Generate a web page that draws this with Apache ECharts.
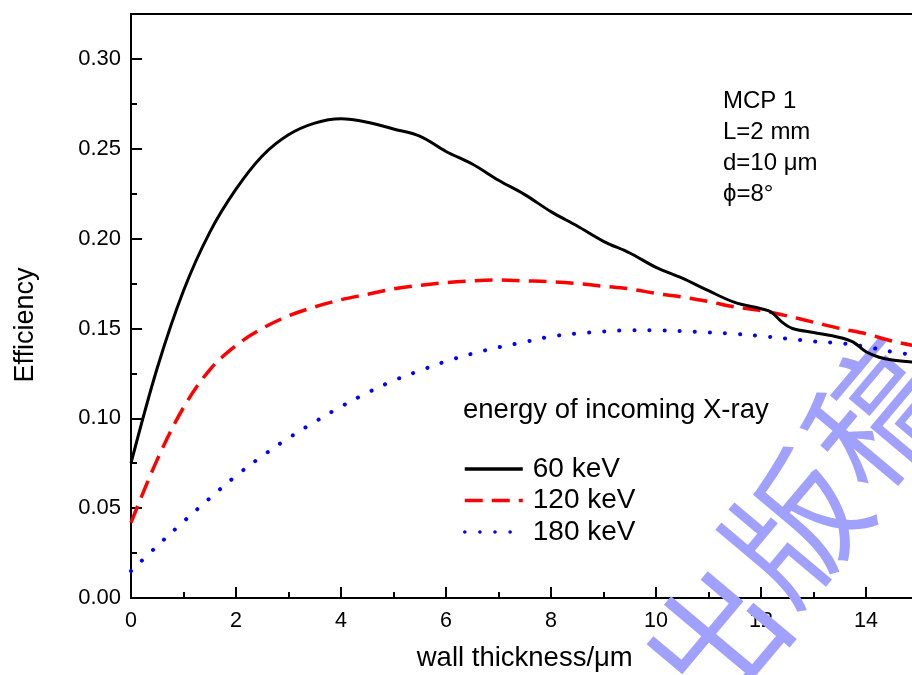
<!DOCTYPE html>
<html>
<head>
<meta charset="utf-8">
<script src="https://cdn.jsdelivr.net/npm/echarts@6/dist/echarts.min.js"></script>
<style>html,body{margin:0;padding:0;background:#fff;}#c{width:912px;height:675px;}</style>
</head>
<body>
<div id="c"></div>
<script>
// x positions (wall thickness, μm)
const xs = [0,0.5,1,1.5,2,2.5,3,3.5,4,4.5,5,5.5,6,6.5,7,7.5,8,8.5,9,9.5,10,10.5,11,11.5,12,12.5,13,13.5,14,14.5,15];
// 60 keV has its own finer sampling around the steps
const xs60 = [0,0.5,1,1.5,2,2.5,3,3.5,4,4.5,5,5.5,6,6.5,7,7.5,8,8.5,9,9.5,10,10.5,11,11.5,12,12.2,12.4,12.6,13,13.5,13.75,14,14.25,14.5,15];
const eff60 = [0.075,0.128,0.171,0.2035,0.2275,0.246,0.2578,0.2643,0.2667,0.2648,0.2610,0.2570,0.2485,0.2415,0.2325,0.2245,0.2150,0.2070,0.1985,0.1920,0.1840,0.1780,0.1710,0.1645,0.1610,0.1590,0.1535,0.1500,0.1478,0.1450,0.1425,0.1370,0.1340,0.1325,0.1310];
const eff120 = [0.042,0.077,0.106,0.127,0.1405,0.150,0.157,0.162,0.166,0.169,0.172,0.174,0.1755,0.1765,0.177,0.1765,0.176,0.175,0.1735,0.172,0.1695,0.1675,0.165,0.162,0.160,0.157,0.1535,0.150,0.147,0.143,0.140];
const eff180 = [0.015,0.029,0.0425,0.0555,0.068,0.079,0.089,0.098,0.1065,0.1142,0.121,0.1265,0.1317,0.136,0.1395,0.1425,0.1455,0.1472,0.1483,0.149,0.149,0.1485,0.1478,0.147,0.1458,0.1443,0.1428,0.1418,0.1398,0.137,0.135];
const seriesNames = ['60 keV','120 keV','180 keV'];
const legendTitle = 'energy of incoming X-ray';
const infoLines = ['MCP 1','L=2 mm','d=10 μm','ϕ=8°'];
const yTitle = 'Efficiency';
const xTitle = 'wall thickness/μm';
const watermark = ['未','出','版','稿'];

const FONT = 'Liberation Sans, Arial, sans-serif';
const chart = echarts.init(document.getElementById('c'), null, {renderer:'canvas'});
const pair = (x, y) => x.map((v, i) => [v, y[i]]);

const wmPos = [[635,752],[715,640],[795,527],[877,414]];
const graphics = [
  {type:'text', left:463, top:396, style:{text:legendTitle, font:'27.5px ' + FONT, fill:'#000'}, z:10},
  {type:'text', left:723, top:86, style:{text:infoLines.join('\n'), font:'24px ' + FONT, lineHeight:31, fill:'#000'}, z:10},
  {type:'text', x:26, y:325, rotation:Math.PI/2, style:{text:yTitle, font:'27px ' + FONT, fill:'#000', align:'center', verticalAlign:'middle'}, z:10}
];
watermark.forEach((ch, i) => {
  graphics.push({type:'text', x:wmPos[i][0], y:wmPos[i][1], rotation:50*Math.PI/180, silent:true, z:1,
    style:{text:ch, font:'135px "Noto Sans CJK SC"', fill:'#a0a0ff', align:'center', verticalAlign:'middle'}});
});

chart.setOption({
  animation:false,
  backgroundColor:'#fff',
  grid:{left:131, top:14, width:787.5, height:584, show:true, borderColor:'#000', borderWidth:2, containLabel:false, outerBoundsMode:'none'},
  legend:{orient:'vertical', left:463, top:455, padding:0, itemWidth:58, itemHeight:20, itemGap:3.5,
    itemStyle:{opacity:0}, lineStyle:{width:3.5},
    textStyle:{fontSize:28, fontFamily:FONT, color:'#000', padding:[0,0,0,5]}, data:seriesNames},
  xAxis:{type:'value', min:0, max:15, interval:2,
    name:xTitle, nameLocation:'middle', nameGap:46,
    nameTextStyle:{fontSize:27.5, fontFamily:FONT, color:'#000'},
    axisLine:{lineStyle:{color:'#000', width:2}},
    axisTick:{inside:true, length:11, lineStyle:{color:'#000', width:2}},
    minorTick:{show:true, splitNumber:2, length:6, lineStyle:{color:'#000', width:2}},
    axisLabel:{fontSize:21.5, fontFamily:FONT, color:'#000', margin:12, showMaxLabel:false},
    splitLine:{show:false}},
  yAxis:{type:'value', min:0, max:0.325, interval:0.05,
    axisLine:{show:true, lineStyle:{color:'#000', width:2}},
    axisTick:{show:true, inside:true, length:11, lineStyle:{color:'#000', width:2}},
    minorTick:{show:true, splitNumber:2, length:6, lineStyle:{color:'#000', width:2}},
    axisLabel:{fontSize:22, fontFamily:FONT, color:'#000', margin:10, showMaxLabel:false, formatter:v=>v.toFixed(2)},
    splitLine:{show:false}},
  series:[
    {name:seriesNames[0], type:'line', data:pair(xs60, eff60), showSymbol:false, symbol:'none', smooth:0.35, z:5,
      lineStyle:{color:'#000', width:3}, itemStyle:{color:'#000'}},
    {name:seriesNames[1], type:'line', data:pair(xs, eff120), showSymbol:false, symbol:'none', smooth:0.35, z:4,
      lineStyle:{color:'#ff0000', width:3.5, type:[18,9]}, itemStyle:{color:'#ff0000'}},
    {name:seriesNames[2], type:'line', data:pair(xs, eff180), showSymbol:false, symbol:'none', smooth:0.35, z:3,
      lineStyle:{color:'#0000ff', width:4, type:[0.1,15], cap:'round'}, itemStyle:{color:'#0000ff'}}
  ],
  graphic:graphics
});
</script>
</body>
</html>
